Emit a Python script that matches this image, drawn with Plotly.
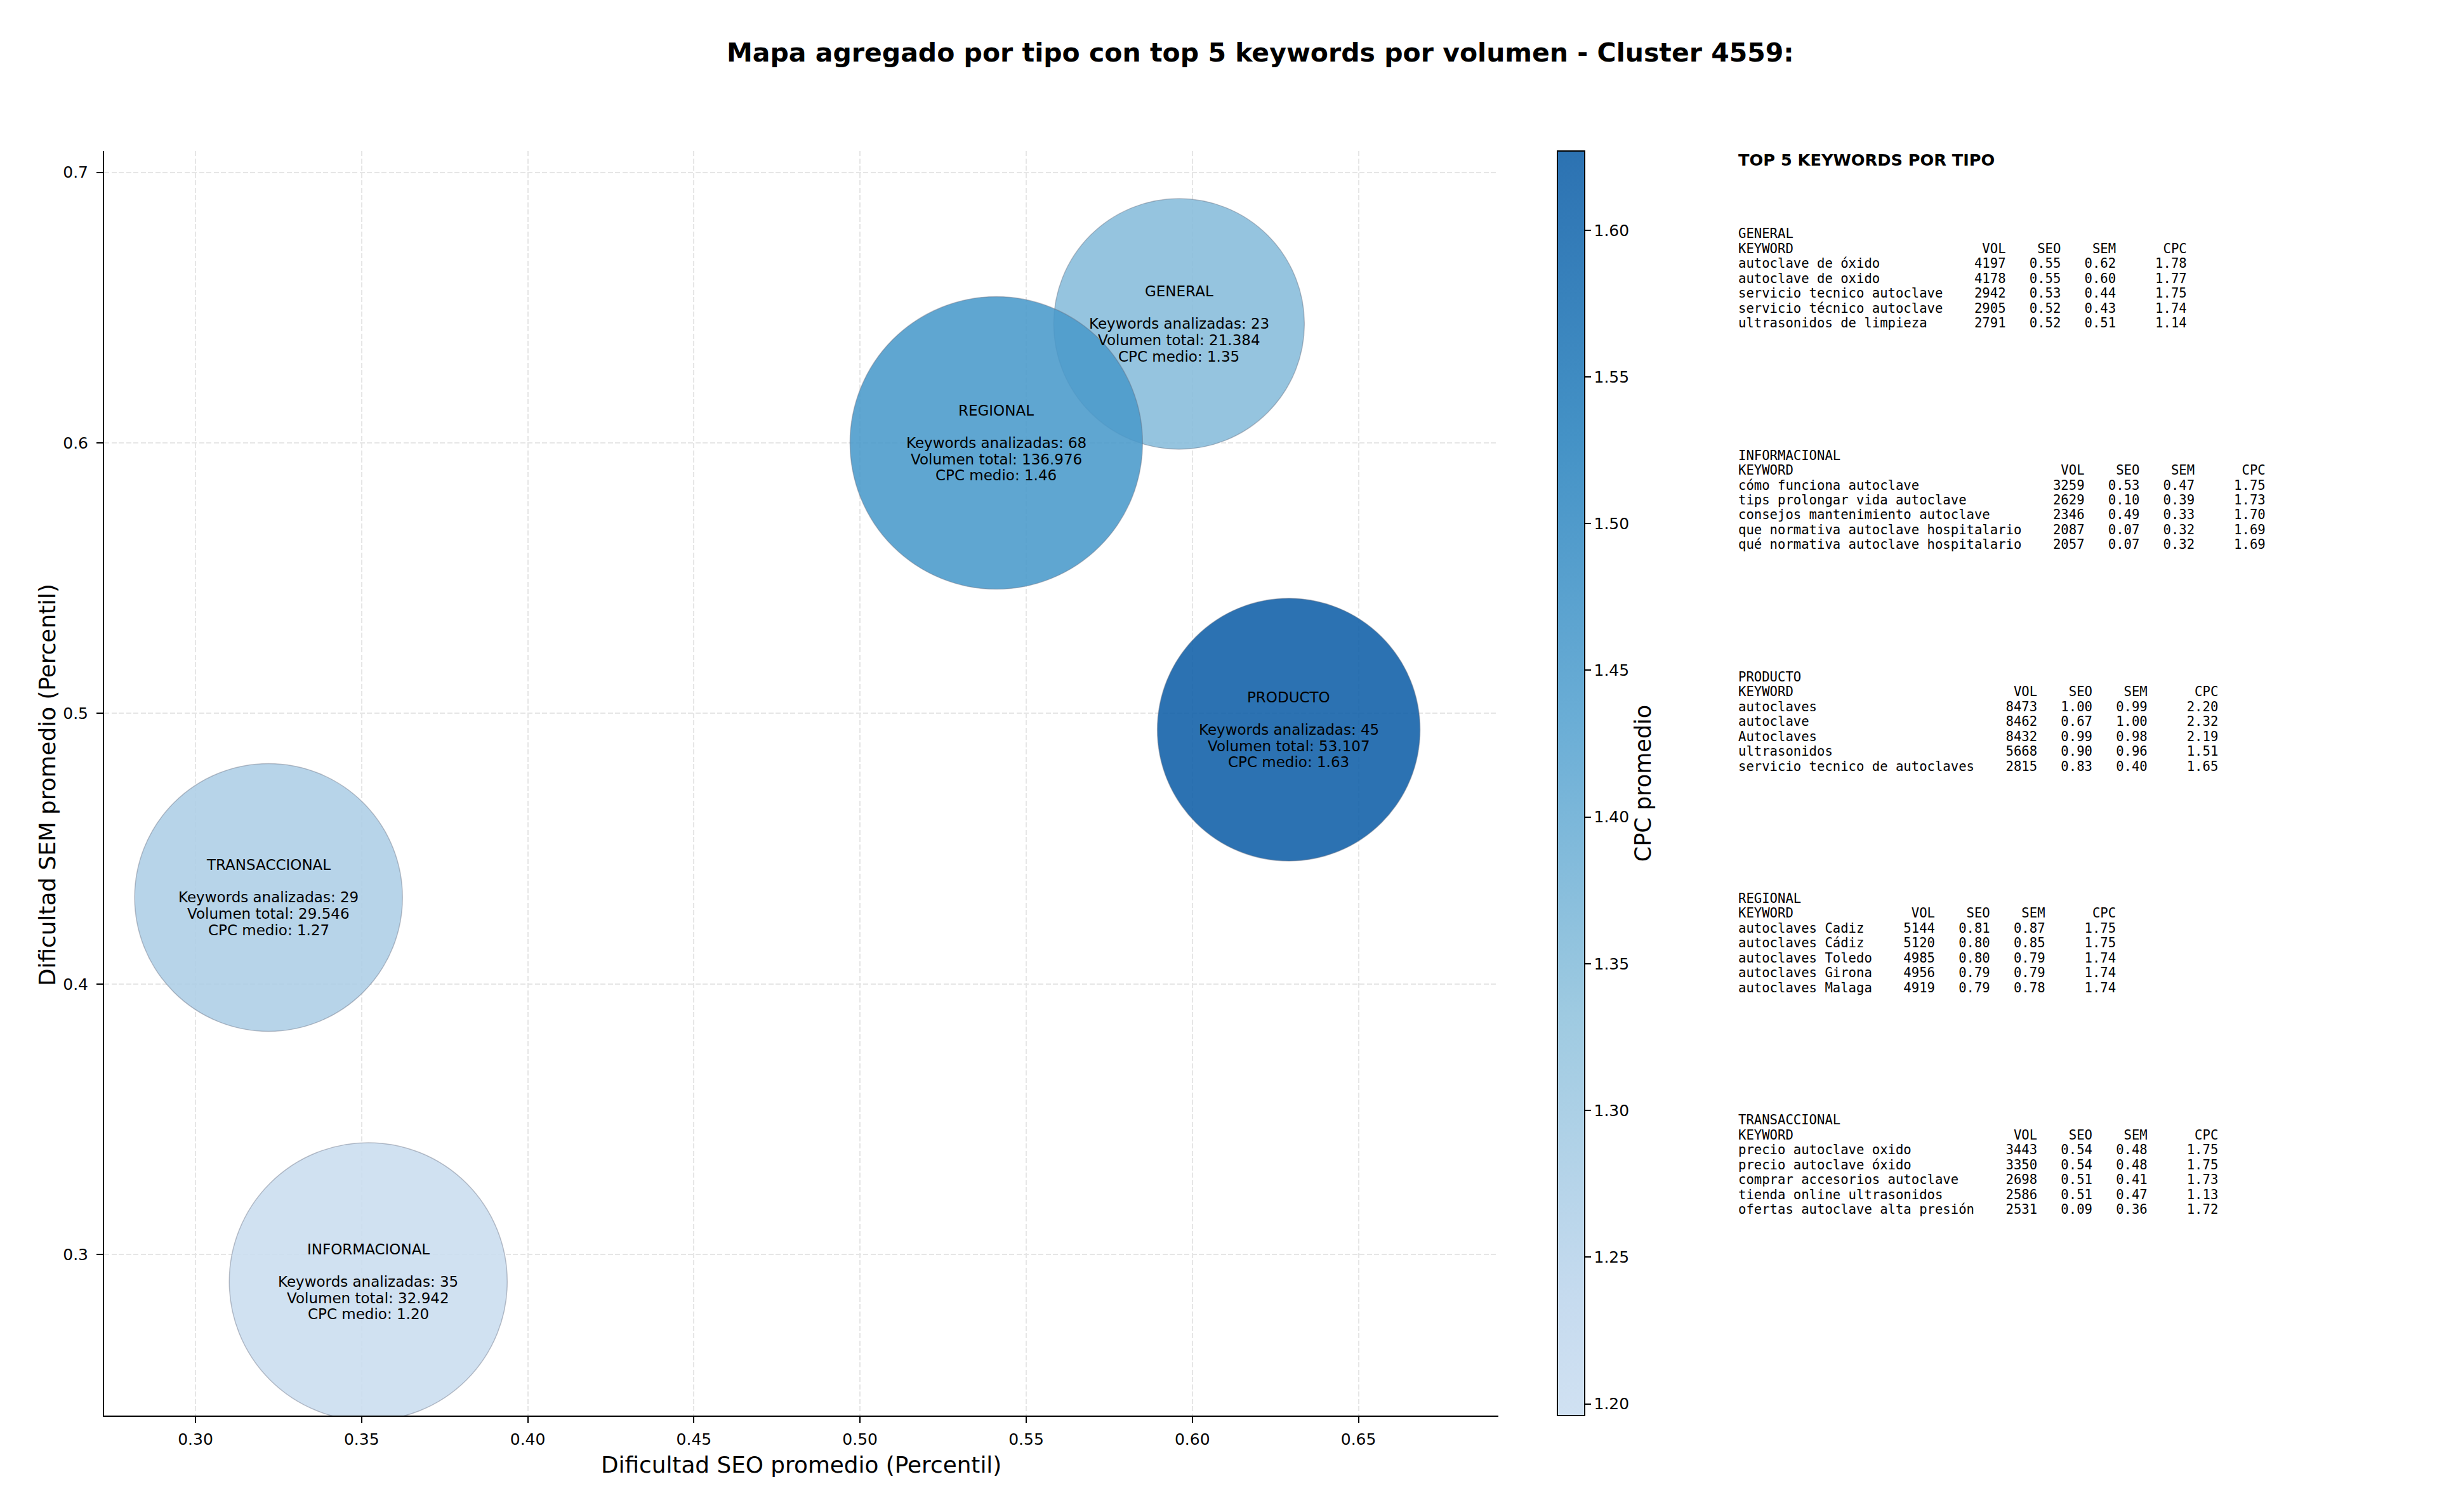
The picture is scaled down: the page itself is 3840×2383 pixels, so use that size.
import plotly.graph_objects as go

# ---------------- data ----------------
tipos = ["GENERAL", "INFORMACIONAL", "PRODUCTO", "REGIONAL", "TRANSACCIONAL"]
seo_prom = [0.596, 0.352, 0.629, 0.541, 0.322]
sem_prom = [0.644, 0.290, 0.494, 0.600, 0.432]
n_keywords = [23, 35, 45, 68, 29]
vol_total = [21384, 32942, 53107, 136976, 29546]
cpc_prom = [1.35, 1.196, 1.627, 1.46, 1.27]

x_ticks = [0.30, 0.35, 0.40, 0.45, 0.50, 0.55, 0.60, 0.65]
y_ticks = [0.3, 0.4, 0.5, 0.6, 0.7]
cb_ticks = [1.20, 1.25, 1.30, 1.35, 1.40, 1.45, 1.50, 1.55, 1.60]

general_kw = ["autoclave de óxido", "autoclave de oxido", "servicio tecnico autoclave",
              "servicio técnico autoclave", "ultrasonidos de limpieza"]
general_vol = [4197, 4178, 2942, 2905, 2791]
general_seo = [0.55, 0.55, 0.53, 0.52, 0.52]
general_sem = [0.62, 0.60, 0.44, 0.43, 0.51]
general_cpc = [1.78, 1.77, 1.75, 1.74, 1.14]

informacional_kw = ["cómo funciona autoclave", "tips prolongar vida autoclave",
                    "consejos mantenimiento autoclave", "que normativa autoclave hospitalario",
                    "qué normativa autoclave hospitalario"]
informacional_vol = [3259, 2629, 2346, 2087, 2057]
informacional_seo = [0.53, 0.10, 0.49, 0.07, 0.07]
informacional_sem = [0.47, 0.39, 0.33, 0.32, 0.32]
informacional_cpc = [1.75, 1.73, 1.70, 1.69, 1.69]

producto_kw = ["autoclaves", "autoclave", "Autoclaves", "ultrasonidos",
               "servicio tecnico de autoclaves"]
producto_vol = [8473, 8462, 8432, 5668, 2815]
producto_seo = [1.00, 0.67, 0.99, 0.90, 0.83]
producto_sem = [0.99, 1.00, 0.98, 0.96, 0.40]
producto_cpc = [2.20, 2.32, 2.19, 1.51, 1.65]

regional_kw = ["autoclaves Cadiz", "autoclaves Cádiz", "autoclaves Toledo",
               "autoclaves Girona", "autoclaves Malaga"]
regional_vol = [5144, 5120, 4985, 4956, 4919]
regional_seo = [0.81, 0.80, 0.80, 0.79, 0.79]
regional_sem = [0.87, 0.85, 0.79, 0.79, 0.78]
regional_cpc = [1.75, 1.75, 1.74, 1.74, 1.74]

transaccional_kw = ["precio autoclave oxido", "precio autoclave óxido",
                    "comprar accesorios autoclave", "tienda online ultrasonidos",
                    "ofertas autoclave alta presión"]
transaccional_vol = [3443, 3350, 2698, 2586, 2531]
transaccional_seo = [0.54, 0.54, 0.51, 0.51, 0.09]
transaccional_sem = [0.48, 0.48, 0.41, 0.47, 0.36]
transaccional_cpc = [1.75, 1.75, 1.73, 1.13, 1.72]

# ---------------- styling ----------------
W, H = 3840, 2383
AX_L, AX_R, AX_T, AX_B = 164, 2361, 238, 2231
bubble_diam_px = [395, 438, 414, 461, 422]
ALPHA = 0.88
FONT = "DejaVu Sans"
MONO = "DejaVu Sans Mono"

# visible colours (as seen after alpha blending on white)
vis_stops = [(0.0, (208, 225, 242)), (0.0909, (198, 219, 239)), (0.318, (158, 202, 225)),
             (0.545, (107, 174, 214)), (0.773, (68, 146, 198)), (1.0, (44, 114, 178))]


def rgb(c):
    return "rgb(%d,%d,%d)" % tuple(int(round(v)) for v in c)


vis_scale = [[p, rgb(c)] for p, c in vis_stops]
true_scale = [[p, rgb(tuple(max(0, min(255, (v - 255 * (1 - ALPHA)) / ALPHA)) for v in c))]
              for p, c in vis_stops]


def px_x(p):
    return p / W


def px_y(p):
    return 1 - p / H


cmin, cmax = min(cpc_prom), max(cpc_prom)

fig = go.Figure()
fig.add_trace(go.Scatter(
    x=seo_prom, y=sem_prom, mode="markers", hoverinfo="skip", showlegend=False,
    marker=dict(size=bubble_diam_px, color=cpc_prom, colorscale=true_scale,
                cmin=cmin, cmax=cmax, opacity=ALPHA, showscale=False,
                line=dict(color="rgba(90,100,120,0.45)", width=1.5)),
))
# colour bar (alpha-blended colours, as in the reference)
fig.add_trace(go.Scatter(
    x=seo_prom, y=sem_prom, mode="markers", hoverinfo="skip", showlegend=False,
    marker=dict(size=1, color=cpc_prom, colorscale=vis_scale, cmin=cmin, cmax=cmax,
                opacity=0, showscale=True,
                colorbar=dict(
                    x=px_x(2454), xanchor="left", y=px_y((AX_T + AX_B) / 2), yanchor="middle",
                    len=(AX_B - AX_T) / H, lenmode="fraction", thickness=43,
                    xpad=0, ypad=0, outlinecolor="black", outlinewidth=2,
                    tickvals=cb_ticks, ticktext=["%.2f" % v for v in cb_ticks],
                    ticks="outside", ticklen=9, tickwidth=2, tickcolor="black",
                    tickfont=dict(family=FONT, size=25, color="black"),
                    title=dict(text="CPC promedio", side="right",
                               font=dict(family=FONT, size=35, color="black")),
                )),
))

annotations = []
# bubble labels
LINE_H = 25.7
for i, t in enumerate(tipos):
    lines = [t, "", "Keywords analizadas: %d" % n_keywords[i],
             "Volumen total: " + "{:,}".format(vol_total[i]).replace(",", "."),
             "CPC medio: %.2f" % cpc_prom[i]]
    for j, ln in enumerate(lines):
        if not ln:
            continue
        annotations.append(dict(
            x=seo_prom[i], y=sem_prom[i], xref="x", yref="y", text=ln, showarrow=False,
            xanchor="center", yanchor="middle", yshift=(2 - j) * LINE_H,
            font=dict(family=FONT, size=23, color="black")))

# titles
annotations.append(dict(
    x=px_x(1986), y=px_y(83), xref="paper", yref="paper", showarrow=False,
    text="<b>Mapa agregado por tipo con top 5 keywords por volumen - Cluster 4559:</b>",
    xanchor="center", yanchor="middle", font=dict(family=FONT, size=41, color="black")))
annotations.append(dict(
    x=px_x((AX_L + AX_R) / 2), y=px_y(2308), xref="paper", yref="paper", showarrow=False,
    text="Dificultad SEO promedio (Percentil)", xanchor="center", yanchor="middle",
    font=dict(family=FONT, size=35.8, color="black")))
annotations.append(dict(
    x=px_x(74), y=px_y(1237), xref="paper", yref="paper", showarrow=False, textangle=-90,
    text="Dificultad SEM promedio (Percentil)", xanchor="center", yanchor="middle",
    font=dict(family=FONT, size=35.8, color="black")))

# right panel
PANEL_X = px_x(2737)
annotations.append(dict(
    x=PANEL_X, y=px_y(251.7), xref="paper", yref="paper", showarrow=False,
    text="<b>TOP 5 KEYWORDS POR TIPO</b>", xanchor="left", yanchor="middle",
    font=dict(family=FONT, size=25.6, color="black")))

blocks = [
    ("GENERAL", general_kw, general_vol, general_seo, general_sem, general_cpc),
    ("INFORMACIONAL", informacional_kw, informacional_vol, informacional_seo, informacional_sem, informacional_cpc),
    ("PRODUCTO", producto_kw, producto_vol, producto_seo, producto_sem, producto_cpc),
    ("REGIONAL", regional_kw, regional_vol, regional_seo, regional_sem, regional_cpc),
    ("TRANSACCIONAL", transaccional_kw, transaccional_vol, transaccional_seo, transaccional_sem, transaccional_cpc),
]
for k, (name, kws, vols, seos, sems, cpcs) in enumerate(blocks):
    L = max(len(s) for s in kws)
    rows = [name, f"{'KEYWORD':<{L}}{'VOL':>8}{'SEO':>7}{'SEM':>7}{'CPC':>9}"]
    for kw, v, s1, s2, c in zip(kws, vols, seos, sems, cpcs):
        rows.append(f"{kw:<{L}}{v:>8}{s1:>7.2f}{s2:>7.2f}{c:>9.2f}")
    y0 = 368.3 + k * 349.2
    for j, r in enumerate(rows):
        annotations.append(dict(
            x=PANEL_X, y=px_y(y0 + j * 23.5), xref="paper", yref="paper", showarrow=False,
            text=r.replace(" ", "\u00a0"), xanchor="left", yanchor="middle",
            font=dict(family=MONO, size=20.6, color="black")))

axis_common = dict(
    showline=True, linecolor="black", linewidth=2, mirror=False,
    ticks="outside", ticklen=10, tickwidth=2, tickcolor="black",
    tickfont=dict(family=FONT, size=25, color="black"),
    showgrid=True, gridcolor="#e6e6e6", gridwidth=2, griddash="8px,3.5px",
    zeroline=False, fixedrange=True,
)

fig.update_layout(
    width=W, height=H, margin=dict(l=0, r=0, t=0, b=0),
    paper_bgcolor="white", plot_bgcolor="white", hovermode=False,
    xaxis=dict(domain=[px_x(AX_L), px_x(AX_R)], range=[0.2725, 0.6921],
               tickvals=x_ticks, ticktext=["%.2f" % v for v in x_ticks],
               ticklabelstandoff=4, **axis_common),
    yaxis=dict(domain=[px_y(AX_B), px_y(AX_T)], range=[0.2405, 0.7079],
               tickvals=y_ticks, ticktext=["%.1f" % v for v in y_ticks],
               ticklabelstandoff=8, **axis_common),
    annotations=annotations,
)

fig.write_html("out.html")
